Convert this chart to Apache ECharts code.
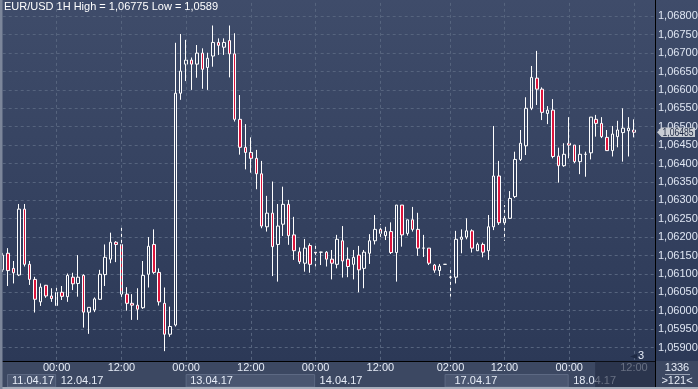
<!DOCTYPE html>
<html><head><meta charset="utf-8">
<script src="https://cdn.jsdelivr.net/npm/echarts@6/dist/echarts.min.js"></script>
<style>
html,body{margin:0;padding:0;background:#2c3957;}
#c{width:698px;height:389px;background:linear-gradient(to bottom,#3f4c6a 0px,#2c3957 361px,#2c3957 389px);}
</style>
</head><body><div id="c"></div>
<script>
// ---- data (EUR/USD 1H candles, oldest first) ----
const opens = [1.06111,1.06156,1.06115,1.06097,1.06276,1.06126,1.06085,1.06024,1.06069,1.06040,
1.06014,1.06050,1.06038,1.06091,1.06074,1.06096,1.05996,1.06002,1.06031,1.06098,
1.06140,1.06186,1.06180,1.06045,1.06020,1.06015,1.06008,1.06099,1.06180,1.06104,
1.06020,1.05936,1.05961,1.06591,1.06670,1.06681,1.06670,1.06700,1.06661,1.06692,
1.06729,1.06716,1.06734,1.06698,1.06520,1.06444,1.06430,1.06414,1.06372,1.06228,
1.06265,1.06180,1.06235,1.06289,1.06206,1.06160,1.06129,1.06177,1.06159,1.06159,
1.06159,1.06140,1.06126,1.06190,1.06140,1.06126,1.06151,1.06115,1.06156,1.06190,
1.06221,1.06204,1.06215,1.06158,1.06287,1.06210,1.06247,1.06221,1.06170,1.06170,
1.06124,1.06109,1.06126,1.06091,1.06091,1.06194,1.06200,1.06217,1.06163,1.06180,
1.06163,1.06228,1.06366,1.06239,1.06251,1.06310,1.06411,1.06448,1.06550,1.06632,
1.06602,1.06536,1.06545,1.06420,1.06394,1.06455,1.06450,1.06405,1.06425,1.06429,
1.06520,1.06509,1.06471,1.06435,1.06473,1.06484,1.06489,1.06491];
const closes = [1.06151,1.06109,1.06103,1.06276,1.06126,1.06085,1.06031,1.06064,1.06040,1.06033,
1.06050,1.06039,1.06096,1.06073,1.06091,1.05996,1.06009,1.06032,1.06099,1.06145,
1.06186,1.06180,1.06045,1.06020,1.06015,1.06004,1.06096,1.06175,1.06104,1.06024,
1.05936,1.05957,1.06591,1.06651,1.06681,1.06670,1.06700,1.06656,1.06686,1.06729,
1.06721,1.06729,1.06698,1.06520,1.06444,1.06430,1.06414,1.06372,1.06230,1.06265,
1.06174,1.06230,1.06289,1.06204,1.06163,1.06133,1.06170,1.06126,1.06157,1.06159,
1.06140,1.06129,1.06194,1.06135,1.06120,1.06145,1.06111,1.06159,1.06190,1.06221,
1.06210,1.06215,1.06158,1.06287,1.06206,1.06247,1.06221,1.06170,1.06170,1.06129,
1.06110,1.06121,1.06126,1.06091,1.06194,1.06200,1.06217,1.06170,1.06180,1.06159,
1.06228,1.06366,1.06239,1.06251,1.06305,1.06411,1.06455,1.06550,1.06634,1.06602,
1.06539,1.06545,1.06419,1.06394,1.06425,1.06450,1.06405,1.06425,1.06425,1.06526,
1.06509,1.06473,1.06435,1.06480,1.06491,1.06496,1.06496,1.06485];
const lows = [1.06105,1.06067,1.06074,1.06094,1.06120,1.06070,1.05995,1.06013,1.06035,1.06024,
1.06014,1.06029,1.06024,1.06056,1.06038,1.05954,1.05937,1.05996,1.06029,1.06067,
1.06129,1.06132,1.06032,1.06000,1.05975,1.05975,1.06005,1.06063,1.06100,1.06014,
1.05890,1.05929,1.05957,1.06573,1.06624,1.06600,1.06633,1.06603,1.06600,1.06663,
1.06695,1.06695,1.06634,1.06514,1.06424,1.06384,1.06375,1.06330,1.06224,1.06215,
1.06094,1.06079,1.06203,1.06179,1.06138,1.06127,1.06106,1.06103,1.06120,1.06124,
1.06120,1.06085,1.06115,1.06090,1.06091,1.06085,1.06050,1.06061,1.06127,1.06180,
1.06194,1.06192,1.06154,1.06079,1.06174,1.06204,1.06215,1.06149,1.06146,1.06124,
1.06103,1.06094,1.06126,1.06038,1.06074,1.06156,1.06194,1.06158,1.06162,1.06145,
1.06138,1.06219,1.06233,1.06190,1.06249,1.06306,1.06407,1.06423,1.06545,1.06559,
1.06518,1.06507,1.06414,1.06348,1.06391,1.06414,1.06401,1.06371,1.06364,1.06411,
1.06473,1.06469,1.06434,1.06419,1.06444,1.06405,1.06419,1.06471];
const highs = [1.06157,1.06170,1.06135,1.06290,1.06290,1.06135,1.06092,1.06074,1.06070,1.06061,
1.06069,1.06067,1.06101,1.06103,1.06151,1.06099,1.06009,1.06036,1.06111,1.06180,
1.06212,1.06189,1.06230,1.06064,1.06045,1.06061,1.06135,1.06200,1.06221,1.06115,
1.06063,1.06011,1.06728,1.06752,1.06736,1.06688,1.06722,1.06713,1.06701,1.06775,
1.06740,1.06740,1.06775,1.06754,1.06586,1.06507,1.06471,1.06437,1.06407,1.06312,
1.06351,1.06290,1.06337,1.06301,1.06255,1.06172,1.06195,1.06183,1.06183,1.06160,
1.06162,1.06165,1.06206,1.06230,1.06172,1.06165,1.06176,1.06165,1.06208,1.06260,
1.06235,1.06228,1.06240,1.06287,1.06287,1.06247,1.06282,1.06266,1.06206,1.06170,
1.06127,1.06127,1.06126,1.06111,1.06217,1.06221,1.06251,1.06221,1.06185,1.06185,
1.06260,1.06502,1.06407,1.06287,1.06325,1.06432,1.06491,1.06580,1.06665,1.06706,
1.06607,1.06556,1.06575,1.06443,1.06455,1.06526,1.06450,1.06450,1.06432,1.06526,
1.06532,1.06526,1.06491,1.06502,1.06516,1.06550,1.06526,1.06520];

const slotCount = 122;                       // visible hourly slots on the axis
const tickIndex  = [10,22,34,46,58,70,83,93,105,117];
const tickLabels = ['00:00','12:00','00:00','12:00','00:00','12:00','02:00','12:00','00:00','12:00'];
const dayBoxStart = [0,10,34,58,82,105];
const dayTextAt   = [0,10,34,58,83,105];
const dayLabels   = ['11.04.17','12.04.17','13.04.17','14.04.17','17.04.17','18.04.17'];
const titleText = 'EUR/USD 1H High = 1,06775 Low = 1,0589';
const lastPrice = 1.06485;
const yMin = 1.0585, yMax = 1.0684, yStep = 0.0005;
const barsTotal = '1336', barsVisible = '>121<', corner = '3';

const FONT = '"Liberation Sans Narrow","Arial Narrow","Liberation Sans",Arial,sans-serif';
const categories = Array.from({length: slotCount}, (_, i) => String(i));
const candles = opens.map((o, i) => [o, closes[i], lows[i], highs[i]]);
const fmt = v => v.toFixed(5).replace('.', ',');

const chart = echarts.init(document.getElementById('c'), null, {renderer: 'canvas'});
chart.setOption({
  animation: false,
  backgroundColor: 'transparent',
  title: {text: titleText, left: 4, top: 1, padding: 0,
    textStyle: {color: '#ffffff', fontSize: 11, fontWeight: 'normal', fontFamily: FONT}},
  grid: {left: 2.7, top: 1.58, width: 652.8, height: 364.3, containLabel: false, outerBoundsMode: 'none'},
  xAxis: {
    type: 'category', data: categories, boundaryGap: false, offset: -4.9, z: 10,
    axisLine: {show: true, lineStyle: {color: '#000000', width: 1}},
    axisTick: {show: false}, splitLine: {show: false},
    axisLabel: {
      interval: (idx) => tickIndex.indexOf(idx) >= 0,
      formatter: (val, idx) => { const k = tickIndex.indexOf(Number(val)); return k >= 0 ? tickLabels[k] : ''; },
      color: '#e6ecf7', fontSize: 11, fontFamily: FONT, margin: 1.5, hideOverlap: false
    }
  },
  yAxis: {
    type: 'value', position: 'right', min: yMin, max: yMax, interval: yStep, scale: true,
    axisLine: {show: false}, axisTick: {show: false},
    splitLine: {show: true, showMaxLine: false, lineStyle: {color: '#56647e', type: [3, 3], width: 1}},
    axisLabel: {
      showMinLabel: false, showMaxLabel: false, margin: 2.5,
      color: '#dfe6f3', fontSize: 11, fontFamily: FONT,
      formatter: v => { const r = v / yStep; return (Math.abs(r - Math.round(r)) < 1e-6 && v > 1.0588) ? fmt(v) : ''; }
    }
  },
  series: [{
    type: 'candlestick', data: candles, barWidth: 3, z: 2,
    itemStyle: {color: 'transparent', color0: '#dc143c', borderColor: '#ffffff', borderColor0: '#ffffff', borderWidth: 1},
    emphasis: {disabled: true},
    markLine: {
      silent: true, animation: false, symbol: ['none', 'none'], label: {show: false},
      lineStyle: {color: '#56647e', type: [3, 3], width: 1},
      emphasis: {disabled: true},
      data: tickIndex.map(i => ({xAxis: categories[i]}))
    }
  }]
});

const px = i => chart.convertToPixel({xAxisIndex: 0}, i);
const py = v => chart.convertToPixel({yAxisIndex: 0}, v);
const gridRight = px(slotCount - 1);
// measure the price-tag text so it fits its box whatever font is picked
const mctx = document.createElement('canvas').getContext('2d');
mctx.font = '11px ' + FONT;
const tagW = mctx.measureText(fmt(lastPrice)).width || 31;
const tagScale = Math.min(1, 31 / tagW);

const g = [];
// bottom band
g.push({type: 'rect', z: 5, shape: {x: 0, y: 361, width: 698, height: 28}, style: {fill: '#3c4862'}});
// day boxes and labels
dayBoxStart.forEach((s, k) => {
  const x0 = Math.max(px(s) - 0.5, 7);
  const x1 = k + 1 < dayBoxStart.length ? px(dayBoxStart[k + 1]) - 0.5 : gridRight;
  if (k % 2 === 0) {
    g.push({type: 'rect', z: 6, shape: {x: x0 + 0.5, y: 374.5, width: x1 - x0 - 1, height: 12.5},
      style: {fill: '#4a5670', stroke: '#5d6983', lineWidth: 1}});
  }
  const tx = Math.max(px(dayTextAt[k]) + 4, 12);
  g.push({type: 'text', z: 12, x: tx, y: 380.5, style: {text: dayLabels[k], fill: '#e6ecf7',
    fontSize: 11, fontFamily: FONT, verticalAlign: 'middle', align: 'left'}});
});
// dimmed region at the right of the time scale
g.push({type: 'rect', z: 15, shape: {x: px(110) - 1, y: 361.5, width: gridRight - px(110) + 1, height: 25.5},
  style: {fill: 'rgba(34,43,66,0.65)'}});
// frame lines
g.push({type: 'line', z: 20, shape: {x1: gridRight, y1: 0, x2: gridRight, y2: 389}, style: {stroke: '#000000', lineWidth: 1}});
g.push({type: 'rect', z: 20, shape: {x: 0, y: 387, width: 698, height: 2}, style: {fill: '#a5adbb'}});
g.push({type: 'rect', z: 20, shape: {x: 0, y: 0, width: 2.5, height: 389}, style: {fill: '#7c869a'}});
// current price tag
const yp = py(lastPrice);
g.push({type: 'polygon', z: 20, shape: {points: [[gridRight + 1.5, yp], [gridRight + 6, yp - 4.8], [695, yp - 4.8], [695, yp + 4.8], [gridRight + 6, yp + 4.8]]},
  style: {fill: '#c9cdd4'}});
g.push({type: 'text', z: 21, x: 693.5, y: yp + 0.5, scaleX: tagScale, style: {text: fmt(lastPrice), fill: '#1d2842',
  fontSize: 11, fontFamily: FONT, verticalAlign: 'middle', align: 'right'}});
// corner marker
g.push({type: 'polygon', z: 20, shape: {points: [[630, 356.5], [637, 354], [637, 359]]}, style: {fill: '#1f2a44'}});
g.push({type: 'text', z: 20, x: 641, y: 355.5, style: {text: corner, fill: '#e6ecf7', fontSize: 11,
  fontFamily: FONT, verticalAlign: 'middle', align: 'center'}});
// bottom-right counters
g.push({type: 'text', z: 20, x: 677, y: 368, style: {text: barsTotal, fill: '#e6ecf7', fontSize: 11,
  fontFamily: FONT, verticalAlign: 'middle', align: 'center'}});
g.push({type: 'line', z: 20, shape: {x1: 665, y1: 374.5, x2: 690, y2: 374.5}, style: {stroke: '#9aa3b5', lineWidth: 1}});
g.push({type: 'text', z: 20, x: 677, y: 381, style: {text: barsVisible, fill: '#e6ecf7', fontSize: 11,
  fontFamily: FONT, verticalAlign: 'middle', align: 'center'}});
chart.setOption({graphic: g});
</script>
</body></html>
